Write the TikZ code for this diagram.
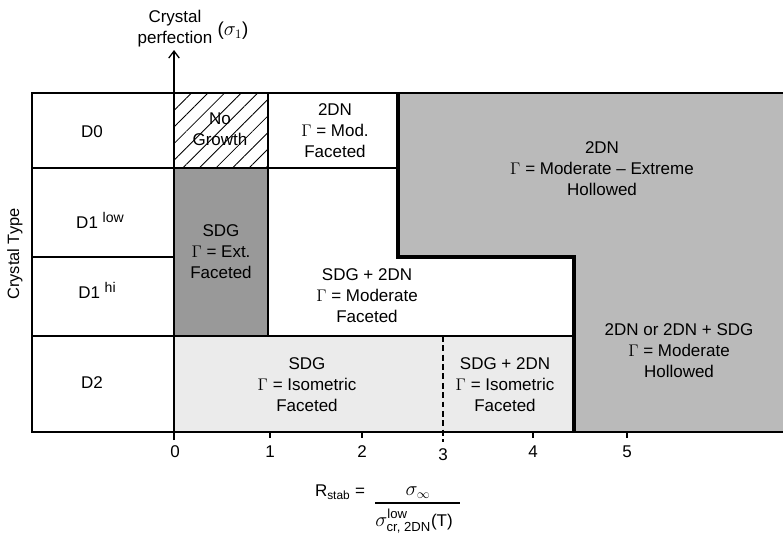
\documentclass[tikz,border=0pt]{standalone}
\usepackage{amsmath}
\usepackage{fontspec}
\setmainfont{Liberation Sans}
\usetikzlibrary{arrows.meta,patterns.meta}

\definecolor{midgrey}{gray}{0.73}
\definecolor{darkgrey}{gray}{0.60}
\definecolor{lightgrey}{gray}{0.92}

\tikzset{
  thin line/.style={line width=1.1pt},
  thick line/.style={line width=2.6pt},
  celltext/.style={align=center,font=\fontsize{14.5}{18}\selectfont},
  ticklabel/.style={font=\fontsize{14.5}{16}\selectfont}
}
\newcommand{\suptag}[1]{\raisebox{5pt}{\fontsize{12}{12}\selectfont #1}}

\begin{document}
\begin{tikzpicture}[x=0.03cm,y=-0.03cm]
  \useasboundingbox (0,0) rectangle (783,533);
  % shaded regions
  \fill[midgrey] (398,93) -- (790,93) -- (790,432) -- (574,432) -- (574,257) -- (398,257) -- cycle;
  \fill[darkgrey] (174,168) rectangle (268,336);
  \fill[lightgrey] (174,336) rectangle (574,432);
  \fill[pattern={Lines[angle=45,distance=10pt,line width=0.7pt]}] (174,93) rectangle (268,168);
  % frame and grid
  \draw[thin line] (790,93) -- (32,93) -- (32,432) -- (790,432);
  \draw[thin line] (32,168) -- (398,168);
  \draw[thin line] (32,257) -- (174,257);
  \draw[thin line] (32,336) -- (574,336);
  \draw[thin line] (268,93) -- (268,336);
  \draw[thick line] (398,93) -- (398,257) -- (574,257) -- (574,432);
  \draw[thin line,dash pattern=on 5pt off 3pt] (443,336) -- (443,442);
  % axis
  \coordinate (origin) at (174,440);
  \coordinate (top) at (174,50);
  \draw[thin line,-{Straight Barb[length=6pt,width=9pt,line width=1.1pt]}] (origin) -- (top);
  \node[celltext] (perf) at (175,29) {Crystal\\perfection};
  \node[font=\fontsize{16}{16}\selectfont] (sigma) at (233,31) {($\sigma_1$)};
  \node[font=\fontsize{14}{16}\selectfont,rotate=90] (ctype) at (15,254) {Crystal Type};
  % ticks
  \foreach \x/\lab in {270/1,362/2,533/4,627/5}{
    \draw[thin line] (\x,432) -- (\x,438);
    \node[ticklabel] (t\lab) at (\x,452) {\lab};
  }
  \node[ticklabel] (t0) at (175,452) {0};
  \node[ticklabel] (t3) at (443,455) {3};
  % row labels
  \node[celltext] (d0) at (92,132) {D0};
  \node[celltext] (d1low) at (100,220) {D1~\suptag{low}};
  \node[celltext] (d1hi) at (97,290) {D1~\suptag{hi}};
  \node[celltext] (d2) at (92,383) {D2};
  % cells
  \node[celltext] (nogrowth) at (220,129) {No\\Growth};
  \node[celltext] (mod) at (335,131) {2DN\\$\Gamma$ = Mod.\\Faceted};
  \node[celltext] (ext) at (221,252) {SDG\\$\Gamma$ = Ext.\\Faceted};
  \node[celltext] (sdgmod) at (367,296) {SDG + 2DN\\$\Gamma$ = Moderate\\Faceted};
  \node[celltext] (hollow) at (602,169) {2DN\\$\Gamma$ = Moderate -- Extreme\\Hollowed};
  \node[celltext] (orsdg) at (679,351) {2DN or 2DN + SDG\\$\Gamma$ = Moderate\\Hollowed};
  \node[celltext] (iso) at (307,385) {SDG\\$\Gamma$ = Isometric\\Faceted};
  \node[celltext] (isodn) at (505,385) {SDG + 2DN\\$\Gamma$ = Isometric\\Faceted};
  % stability ratio
  \node[celltext] (rstab) at (340,492) {R\textsubscript{stab} =};
  \node[font=\fontsize{16}{16}\selectfont] (num) at (418,493) {$\sigma_{\infty}$};
  \node[font=\fontsize{16}{16}\selectfont,anchor=west,inner sep=1pt] (den) at (374,521)
    {$\sigma^{\text{low}}_{\text{cr, 2DN}}$\fontsize{14.5}{16}\selectfont(T)};
  \draw[thin line] (375,503) -- (460,503);
\end{tikzpicture}
\end{document}
